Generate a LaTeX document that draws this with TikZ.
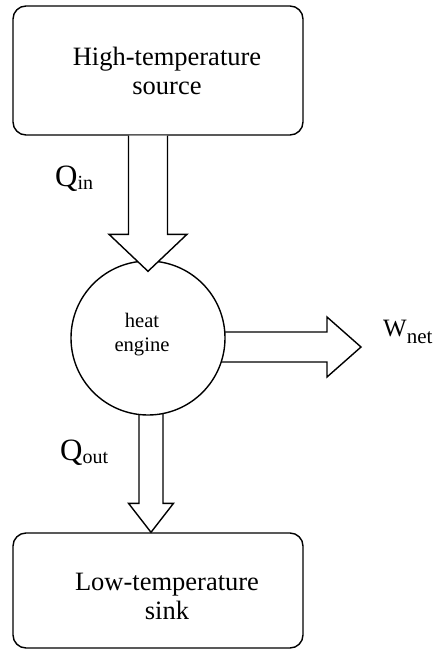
\documentclass[tikz,border=0pt]{standalone}
\usepackage{fontspec}
\setmainfont{Liberation Serif}
\usetikzlibrary{calc}
\begin{document}
\begin{tikzpicture}[x=1pt,y=-1pt,
  box/.style={draw, line width=1.4pt, rounded corners=13pt, minimum width=290pt, inner sep=0pt},
  blockarrow/.style={draw, fill=white, line width=1.4pt, line join=miter},
  boxtext/.style={align=center, font=\fontsize{26.5}{29}\selectfont},
  sym/.style={anchor=base west, inner sep=0pt}]
\useasboundingbox (0,0) rectangle (438,650);
% boxes
\node[box, minimum height=129pt] (src) at (158,70.5) {};
\node[box, minimum height=115pt] (snk) at (158,590.5) {};
\node[boxtext] (srcText) at (167,71) {High-temperature\\source};
\node[boxtext] (snkText) at (167,596) {Low-temperature\\sink};
% engine position
\coordinate (engC) at (148,338);
% outgoing arrows (drawn under the circle)
\coordinate (outT) at ($(snk.north)+(-7,0)$);
\draw[blockarrow] ($(outT)+(-12,-140)$) -- ($(outT)+(-12,-29)$) -- ($(outT)+(-22.5,-29)$) -- (outT)
  -- ($(outT)+(22.5,-29)$) -- ($(outT)+(12,-29)$) -- ($(outT)+(12,-140)$) -- cycle;
\coordinate (wT) at (361,347);
\draw[blockarrow] ($(wT)+(-170,-15)$) -- ($(wT)+(-34,-15)$) -- ($(wT)+(-34,-30)$) -- (wT)
  -- ($(wT)+(-34,30)$) -- ($(wT)+(-34,15)$) -- ($(wT)+(-170,15)$) -- cycle;
% engine
\node[draw, circle, fill=white, line width=1.4pt, minimum size=154pt, inner sep=0pt] (eng) at (engC) {};
\node[align=center, font=\fontsize{20.6}{24}\selectfont] (engText) at (142,335) {heat\\engine};
% incoming arrow
\coordinate (inS) at (eng.north |- src.south);
\coordinate (inT) at ($(eng.north)+(0,11)$);
\draw[blockarrow] ($(inS)+(-19.5,0)$) -- ($(inT)+(-19.5,-37)$) -- ($(inT)+(-39,-37)$) -- (inT)
  -- ($(inT)+(39,-37)$) -- ($(inT)+(19.5,-37)$) -- ($(inS)+(19.5,0)$);
% labels
\node[sym] (qin) at (55,186) {\fontsize{31}{31}\selectfont Q\raisebox{-3pt}{\fontsize{20}{20}\selectfont in}};
\node[sym] (qout) at (60,460) {\fontsize{31}{31}\selectfont Q\raisebox{-3pt}{\fontsize{20}{20}\selectfont out}};
\node[sym] (wnet) at (383,336) {\fontsize{25}{25}\selectfont W\raisebox{-7pt}{\fontsize{21}{21}\selectfont net}};
\end{tikzpicture}
\end{document}
